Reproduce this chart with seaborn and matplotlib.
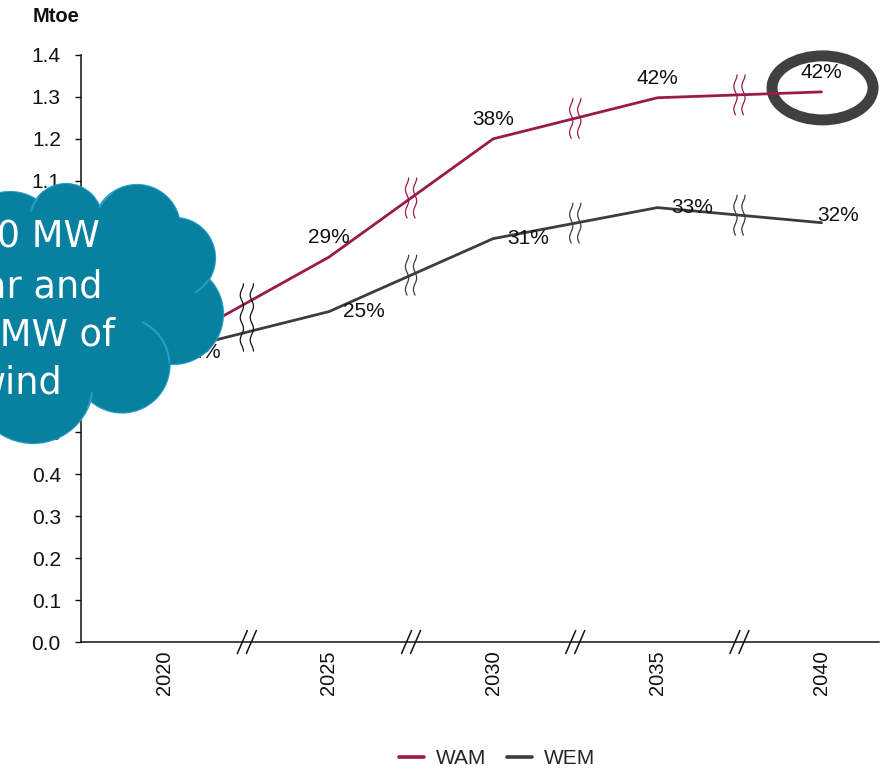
import numpy as np
import pandas as pd
import matplotlib
matplotlib.use("Agg")
import matplotlib.pyplot as plt
import seaborn as sns
from matplotlib.patches import Circle, Ellipse, Arc
from matplotlib.transforms import IdentityTransform

# ---- data -------------------------------------------------------------
years = [2020, 2025, 2030, 2035, 2040]
wam = [0.700, 0.918, 1.200, 1.298, 1.312]
wem = [0.690, 0.788, 0.962, 1.036, 1.000]
wam_labels = ["22%", "29%", "38%", "42%", "42%"]
wem_labels = ["22%", "25%", "31%", "33%", "32%"]
scenarios = ["WAM", "WEM"]
y_ticks = [0.0, 0.1, 0.2, 0.3, 0.4, 0.5, 0.6, 0.7, 0.8, 0.9, 1.0, 1.1, 1.2, 1.3, 1.4]
unit_label = "Mtoe"
cloud_text = ["300 MW", "solar and", "200 MW of", "wind"]

# ---- style ------------------------------------------------------------
W, H = 894, 770
sns.set_style("ticks")
plt.rcParams["font.family"] = ["Liberation Sans", "DejaVu Sans"]
colors = {"WAM": "#9A1B4A", "WEM": "#3D3D3D"}

fig = plt.figure(figsize=(W / 100, H / 100), dpi=100)
ax = fig.add_axes([81 / W, 1 - 642 / H, (879 - 81) / W, (642 - 55) / H])

df = pd.DataFrame({
    "year": years * 2,
    "value": wam + wem,
    "scenario": [scenarios[0]] * len(years) + [scenarios[1]] * len(years),
})
sns.lineplot(data=df, x="year", y="value", hue="scenario", palette=colors,
             linewidth=2.0, sort=False, ax=ax, zorder=3)

ax.set_xlim(2017.45, 2041.75)
ax.set_ylim(0, 1.4)
ax.set_yticks(y_ticks)
ax.set_yticklabels([f"{v:.1f}" for v in y_ticks])
ax.set_xticks(years)
ax.set_xticklabels([str(y) for y in years], rotation=90)
ax.set_xlabel("")
ax.set_ylabel("")
for s in ["top", "right"]:
    ax.spines[s].set_visible(False)
for s in ["left", "bottom"]:
    ax.spines[s].set_linewidth(1.1)
    ax.spines[s].set_color("#111111")
ax.tick_params(axis="y", direction="out", length=4.5, width=1.0, pad=10, labelsize=15, colors="#111111")
ax.tick_params(axis="x", length=0, pad=6, labelsize=14.5, colors="#111111")

# value labels
for x, v, t in zip(years, wam, wam_labels):
    ax.annotate(t, (x, v), xytext=(0, 14), textcoords="offset points",
                ha="center", va="center", fontsize=15, color="#111111", zorder=5)
wem_offsets = [(25, 0), (25, 0), (25, 0), (25, 0), (12, 5)]
for x, v, t, off in zip(years, wem, wem_labels, wem_offsets):
    ax.annotate(t, (x, v), xytext=off, textcoords="offset points",
                ha="center", va="center", fontsize=15, color="#111111", zorder=5)

# legend
handles, labels = ax.get_legend_handles_labels()
for h in handles:
    h.set_linewidth(2.6)
ax.legend(handles, labels, loc="center", bbox_to_anchor=(497 / W, 1 - 759 / H),
          bbox_transform=fig.transFigure, ncol=2, frameon=False, fontsize=15,
          handlelength=1.2, handletextpad=0.55, columnspacing=1.0)

fig.text(33 / W, 1 - 17 / H, unit_label, fontsize=14.5, fontweight="bold",
         ha="left", va="center", color="#111111")

# ---- break marks ------------------------------------------------------
fig.canvas.draw()
to_disp = ax.transData.transform
to_data = ax.transData.inverted().transform


def squiggle(cx, y0, y1, color, waves, gap):
    ys = np.linspace(y1, y0, 120)
    t = (y1 - ys) / (y1 - y0)
    for dx in (-gap, gap):
        xs = cx + dx + 1.6 * np.cos(2 * np.pi * waves * t)
        pts = to_data(np.column_stack([xs, ys]))
        ax.plot(pts[:, 0], pts[:, 1], color=color, lw=0.9, zorder=4, clip_on=False)


for i in range(len(years) - 1):
    xm = (years[i] + years[i + 1]) / 2
    pa = to_disp((xm, (wam[i] + wam[i + 1]) / 2))
    pe = to_disp((xm, (wem[i] + wem[i + 1]) / 2))
    if abs(pa[1] - pe[1]) < 40:
        lo, hi = min(pa[1], pe[1]) - 19, max(pa[1], pe[1]) + 19
        squiggle(pa[0], lo, hi, "#111111", 3.0, 5.0)
    else:
        squiggle(pa[0], pa[1] - 20, pa[1] + 20, colors["WAM"], 1.75, 4.0)
        squiggle(pe[0], pe[1] - 20, pe[1] + 20, colors["WEM"], 1.75, 4.0)
    # slashes on the x axis
    bx, by = to_disp((xm, 0))
    for dx in (-4.5, 4.5):
        seg = to_data(np.array([[bx + dx - 5, by - 11.5], [bx + dx + 5, by + 11.5]]))
        ax.plot(seg[:, 0], seg[:, 1], color="#111111", lw=1.1, zorder=4, clip_on=False)

# highlight ring around the last WAM value
ex, ey = to_disp((years[-1], wam[-1]))
ax.add_patch(Ellipse((ex + 1, ey + 4), 101, 64, transform=IdentityTransform(),
                     facecolor="none", edgecolor="#404040", lw=7.9, zorder=2, clip_on=False))

# ---- cloud callout ----------------------------------------------------
fill_c, edge_c = "#08809F", "#2A9FCB"
bumps = [(10, 240, 48), (66, 220, 36), (137, 228, 43), (175, 258, 40),
         (173, 314, 50), (122, 365, 47.5), (33, 383, 60)]
fillers = [(100, 310, 85), (20, 310, 60)]
for (cx, cy, r) in bumps:
    fig.add_artist(Circle((cx, H - cy), r, transform=IdentityTransform(),
                          facecolor=fill_c, edgecolor=edge_c, lw=1.6, zorder=10))
for (cx, cy, r) in bumps + fillers:
    fig.add_artist(Circle((cx, H - cy), r, transform=IdentityTransform(),
                          facecolor=fill_c, edgecolor="none", zorder=11))
inner_arcs = [((122, 365, 47.5), 2, 65), ((175, 258, 40), -60, -32),
              ((66, 220, 36), 139, 166), ((137, 228, 43), 125, 152),
              ((33, 383, 60), -25, -9)]
for (cx, cy, r), t1, t2 in inner_arcs:
    fig.add_artist(Arc((cx, H - cy), 2 * r, 2 * r, theta1=t1, theta2=t2,
                       transform=IdentityTransform(), edgecolor=edge_c, lw=1.4, zorder=12))
line_ends = [100, 103, 115, 62]
line_bases = [248, 297, 345, 393]
for line, xe, base in zip(cloud_text, line_ends, line_bases):
    fig.text(xe, H - base, line, transform=IdentityTransform(), ha="right", va="baseline",
             fontsize=26.5, color="white", family="DejaVu Sans",
             fontweight="normal", zorder=13)

fig.savefig("out.png", dpi=100)
